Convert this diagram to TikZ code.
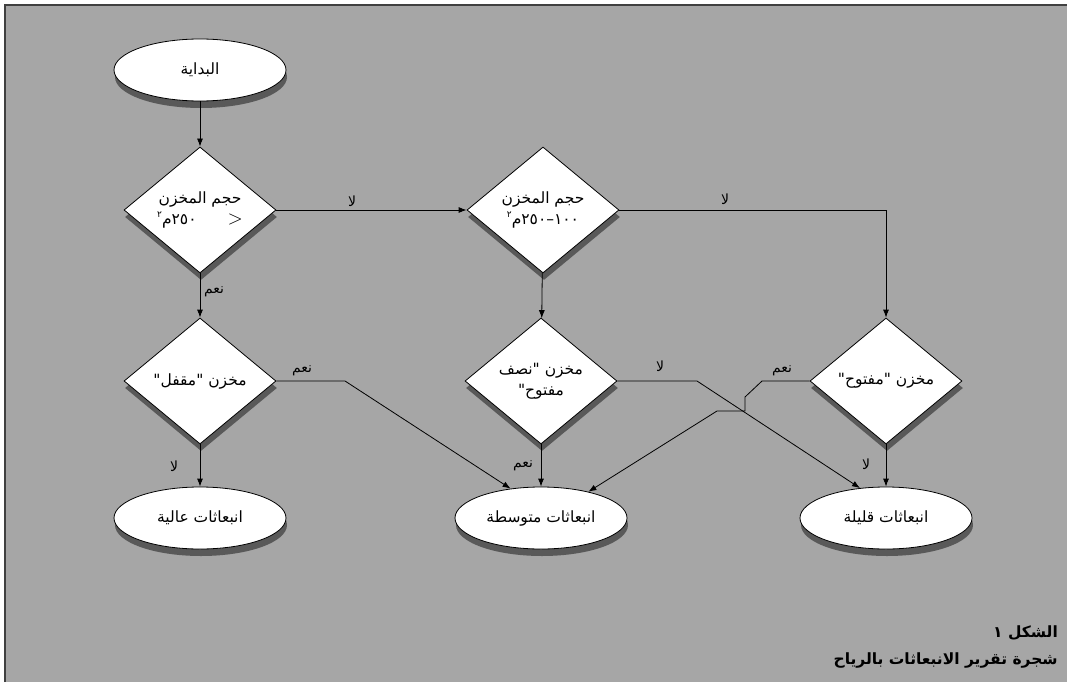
\documentclass[tikz,border=0pt]{standalone}
\usepackage{fontspec}
\usepackage{tikz}
\usetikzlibrary{shapes.geometric,shadows,arrows.meta}
\newfontfamily\arabicfont[Script=Arabic]{DejaVu Sans}
\TeXXeTstate=1
\newcommand\sqm{\raisebox{.8ex}{\fontsize{9}{9}\selectfont ٢}}

\begin{document}
\begin{tikzpicture}[x=1pt, y=-1pt,
  box/.style = {draw = black, line width = 0.8pt, fill = white,
    font = \arabicfont\fontsize{15.5}{21}\selectfont,
    drop shadow = {shadow xshift = 1pt, shadow yshift = -7pt, fill = sh, opacity = 1}},
  term/.style = {box, ellipse, minimum width = 172pt, minimum height = 62pt},
  test/.style = {box, diamond, minimum width = 152pt, minimum height = 126pt,
    inner sep = 0pt, align = center},
  flow/.style = {draw = black, line width = 0.8pt, -{Latex[length=8pt, width=6pt]}},
  tag/.style = {font = \arabicfont\fontsize{14}{16}\selectfont, inner sep = 1pt}]

  \colorlet{paper}{black!35!white}
  \colorlet{sh}{black!65!white}

  \useasboundingbox (0,0) rectangle (1067,682);
  \fill[white] (0,0) rectangle (1067,682);
  \fill[paper] (5,5) rectangle (1067,682);
  \draw[line width = 1.2pt, black!75] (5,682) -- (5,5) -- (1067,5);

  % boxes
  \node[term] (start) at (200,70) {\beginR البداية\endR};
  \node[test] (d1) at (200,210) {\beginR حجم المخزن\endR\\\beginR ٢٥٠م\sqm\endR\qquad{\normalfont\fontsize{20}{20}\selectfont\textgreater}};
  \node[test] (d2) at (543,210) {\beginR حجم المخزن\endR\\\beginR ١٠٠–٢٥٠م\sqm\endR};
  \node[test] (d3) at (200,381) {\beginR مخزن "مقفل"\endR};
  \node[test] (d4) at (541,381) {\beginR مخزن "نصف\endR\\\beginR مفتوح"\endR};
  \node[test] (d5) at (886,381) {\beginR مخزن "مفتوح"\endR};

  \foreach \name/\x/\txt in {
    high/200/انبعاثات عالية,
    mid/541/انبعاثات متوسطة,
    low/886/انبعاثات قليلة}{
      \node[term] (\name) at (\x,518) {\beginR\txt\endR};
    }

  % bends
  \coordinate (k1) at (345,381);
  \coordinate (k2) at (697,381);
  \coordinate (k3) at (762,381);
  \coordinate (k4) at (745,397);
  \coordinate (k5) at (745,411);
  \coordinate (k6) at (717,411);

  \draw[flow] (start) -- (d1);
  \draw[flow] (d1) -- (d2);
  \draw[flow] (d2.east) -| (d5.north);
  \draw[flow] (d1) -- (d3);
  \draw[flow] (d2) -- (d4);
  \draw[flow] (d3) -- (high);
  \draw[flow] (d4) -- (mid);
  \draw[flow] (d5) -- (low);
  \draw[flow] (d3.east) -- (k1) -- (mid.136);
  \draw[flow] (d4.east) -- (k2) -- (low.131);
  \draw[flow] (d5.west) -- (k3) -- (k4) -- (k5) -- (k6) -- (mid.29);

  % yes / no
  \foreach \name/\x/\y/\txt in {
    no1/352/201/لا,
    no2/725/199/لا,
    yes1/214/292/نعم,
    yes2/302/371/نعم,
    no3/174/466/لا,
    yes3/523/466/نعم,
    no4/660/366/لا,
    yes4/782/371/نعم,
    no5/866/464/لا}{
      \node[tag] (\name) at (\x,\y) {\beginR\txt\endR};
    }

  % caption
  \node[anchor = east, inner sep = 0pt, font = \arabicfont\bfseries\fontsize{15.5}{18}\selectfont]
    (fig) at (1058,633) {\beginR الشكل ١\endR};
  \node[anchor = east, inner sep = 0pt, font = \arabicfont\bfseries\fontsize{15.5}{18}\selectfont]
    (title) at (1058,660) {\beginR شجرة تقرير الانبعاثات بالرياح\endR};
\end{tikzpicture}
\end{document}
